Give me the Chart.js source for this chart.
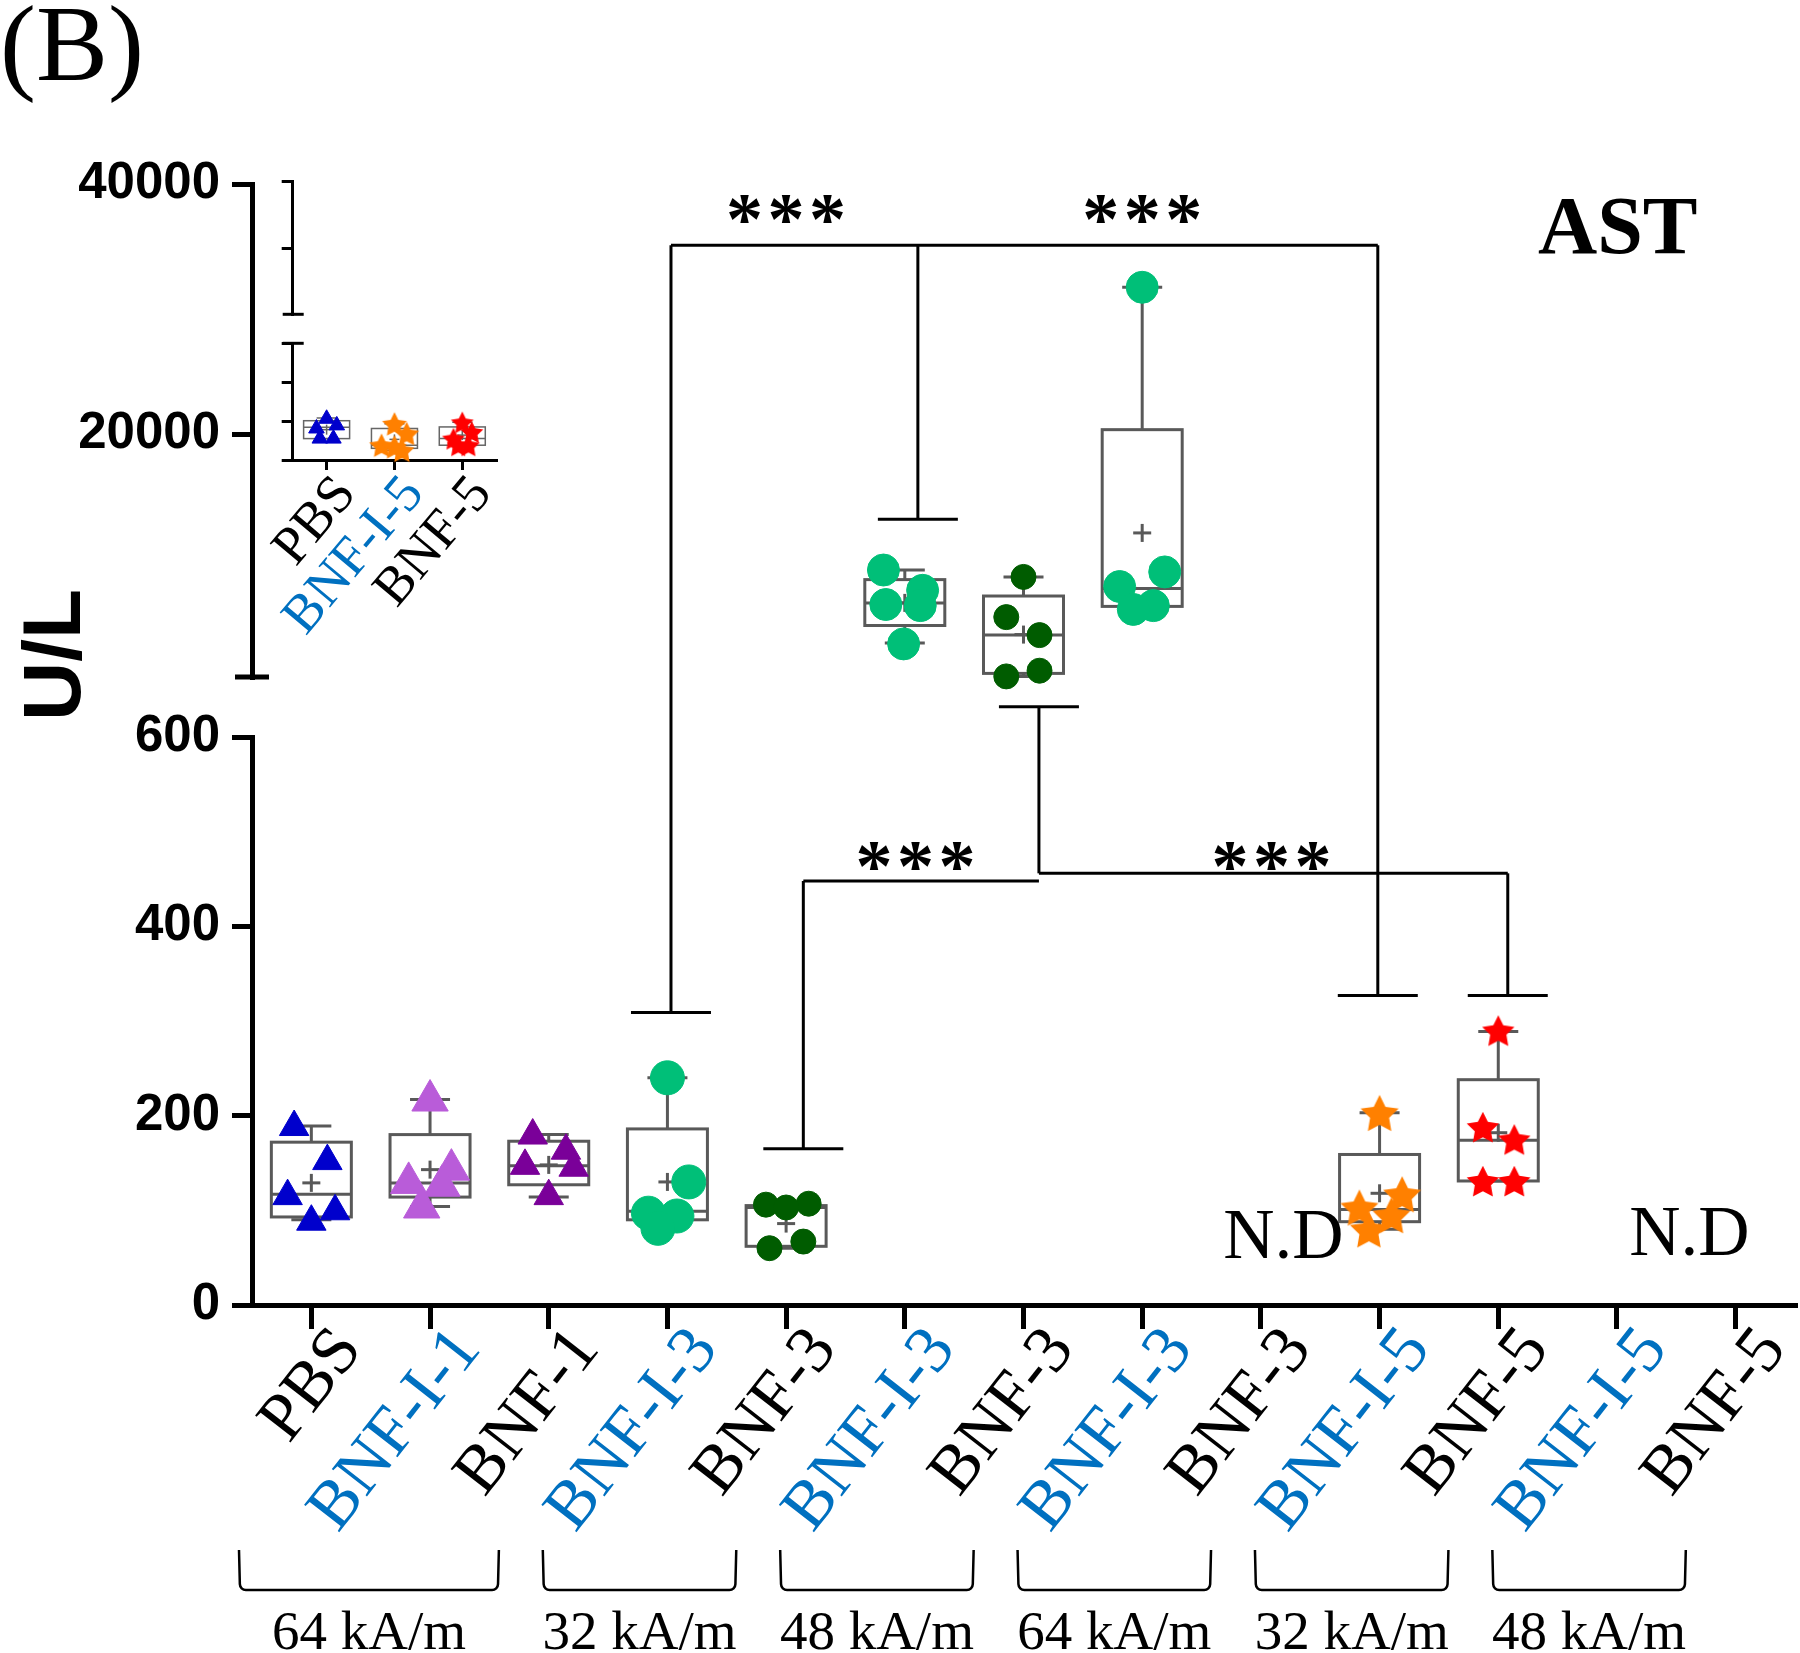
<!DOCTYPE html>
<html>
<head>
<meta charset="utf-8">
<script src="https://cdn.jsdelivr.net/npm/chart.js@4.4.1/dist/chart.umd.min.js"></script>
<style>
    html, body { margin: 0; padding: 0; background: #fff; }
    #wrap { position: relative; width: 1800px; height: 1653px; overflow: hidden; background: #fff; }
    #main { position: absolute; left: 0; top: 0; }
    #inset { position: absolute; left: 200px; top: 150px; }
</style>
</head>
<body>
<div id="wrap">
    <canvas id="main" width="1800" height="1653"></canvas>
    <canvas id="inset" width="330" height="500"></canvas>
</div>
<script>
// ---------- data (AST, U/L) ----------
const categories = ['PBS', 'BNF-I-1', 'BNF-1', 'BNF-I-3', 'BNF-3', 'BNF-I-3', 'BNF-3',
    'BNF-I-3', 'BNF-3', 'BNF-I-5', 'BNF-5', 'BNF-I-5', 'BNF-5'];
const fieldGroups = ['64 kA/m', '32 kA/m', '48 kA/m', '64 kA/m', '32 kA/m', '48 kA/m'];
const fieldGroupStart = [0, 3, 5, 7, 9, 11];
const fieldGroupEnd = [2, 4, 6, 8, 10, 12];

const lowerTicks = [0, 200, 400, 600];
const upperTicks = [20000, 40000];
const upperMin = 600;

// one array per group, one value per animal
const values = [
    [188, 152, 115, 99, 88],
    [216, 143, 129, 126, 103],
    [179, 163, 147, 145, 115],
    [240, 130, 97, 94, 81],
    [107, 106, 103, 67, 60],
    [9150, 7527, 6393, 6305, 3245],
    [8598, 5386, 3948, 1103, 648],
    [31745, 8998, 7831, 6305, 6002],
    [],
    [203, 117, 103, 95, 80],
    [290, 188, 175, 131, 131],
    [],
    []
];
// horizontal spread of the dots inside a group, in category widths
const jitter = [
    [-0.145, 0.135, -0.2, 0.2, 0],
    [0, 0.18, -0.18, 0.1, -0.07],
    [-0.135, 0.145, -0.2, 0.21, 0],
    [0, 0.18, -0.16, 0.08, -0.08],
    [0.19, -0.17, 0, 0.145, -0.14],
    [-0.18, 0.15, -0.16, 0.13, -0.01],
    [0, -0.145, 0.135, 0.135, -0.145],
    [0, 0.19, -0.19, 0.094, -0.075],
    [],
    [0, 0.19, -0.17, 0.1, -0.09],
    [0, -0.13, 0.135, -0.13, 0.135],
    [],
    []
];
const boxMin    = [90, 104, 114, 82, 60, 3309, 648, 6002, null, 80, 131, null, null];
const boxQ1     = [93, 114, 127, 90, 62, 4715, 888, 6242, null, 88, 131, null, null];
const boxMedian = [117, 129, 147, 99, 103, 6521, 3948, 7680, null, 101, 174, null, null];
const boxQ3     = [172, 180, 173, 186, 105, 8383, 7072, 20367, null, 159, 238, null, null];
const boxMax    = [189, 217, 180, 240, 107, 9150, 8598, 31745, null, 203, 289, null, null];
const boxMean   = [129, 143, 148, 130, 86, 6524, 3990, 12114, null, 118, 182, null, null];

// not detected groups: where the note sits (category units) and its baseline (U/L)
const ndX = [8.19, 11.61];
const ndY = [50, 53];

// significance brackets: [x, value, axis] end points
const sigSegments = [
    [[3.03, 35100, 'yTop'], [8.985, 35100, 'yTop']],
    [[3.03, 35100, 'yTop'], [3.03, 309, 'y']],
    [[5.11, 35100, 'yTop'], [5.11, 13208, 'yTop']],
    [[8.985, 35100, 'yTop'], [8.985, 327, 'y']],
    [[4.145, 448, 'y'], [6.13, 448, 'y']],
    [[6.13, 456, 'y'], [10.08, 456, 'y']],
    [[4.145, 448, 'y'], [4.145, 165, 'y']],
    [[6.13, 456, 'y'], [6.13, 632, 'y']],
    [[10.08, 456, 'y'], [10.08, 327, 'y']]
];
const sigCaps = [[3.03, 309, 'y'], [5.11, 13208, 'yTop'], [8.985, 327, 'y'],
    [4.145, 165, 'y'], [6.13, 632, 'y'], [10.08, 327, 'y']];
const sigStars = [[4.0, 38000, 'yTop'], [7.0, 38000, 'yTop'], [5.09, 474, 'y'], [8.09, 474, 'y']];

// inset
const insetCategories = ['PBS', 'BNF-I-5', 'BNF-5'];
const insetLowerTicks = [0, 100, 200, 300];
const insetUpperTicks = [550, 700];
const insetUpperMin = 400;
const insetValues = [[106, 89, 81, 55, 55], [93, 68, 38, 34, 25], [97, 72, 55, 38, 38]];
const insetJitter = [[0, 0.15, -0.15, -0.1, 0.1], [0, 0.18, -0.19, 0, 0.11], [0, 0.14, -0.13, -0.06, 0.09]];
const insetMin = [55, 25, 38];
const insetQ1 = [55, 30, 38];
const insetMedian = [84, 38, 55];
const insetQ3 = [101, 81, 85];
const insetMax = [108, 93, 97];
const insetMean = [78, 53, 64];

// ---------- styles ----------
const BLUE_TEXT = '#0070C0';
const BOX_GREY = '#595959';
const SERIF = 'Liberation Serif';
const SANS = 'Liberation Sans';

function starImage(color, outer) {
    const inner = outer * 0.5;
    const size = Math.ceil(outer * 2 + 2);
    const c = document.createElement('canvas');
    c.width = size;
    c.height = size;
    const g = c.getContext('2d');
    g.translate(size / 2, size / 2 + outer * 0.1);
    g.beginPath();
    for (let k = 0; k < 10; k++) {
        const r = k % 2 ? inner : outer;
        const a = -Math.PI / 2 + k * Math.PI / 5;
        g.lineTo(r * Math.cos(a), r * Math.sin(a));
    }
    g.closePath();
    g.fillStyle = color;
    g.fill();
    return c;
}

const markers = [
    {style: 'triangle', color: '#0000CC', radius: 17},
    {style: 'triangle', color: '#B95CD9', radius: 21},
    {style: 'triangle', color: '#7A0099', radius: 17},
    {style: 'circle', color: '#00BF78', radius: 17},
    {style: 'circle', color: '#005C00', radius: 12.5},
    {style: 'circle', color: '#00BF78', radius: 16},
    {style: 'circle', color: '#005C00', radius: 12.5},
    {style: 'circle', color: '#00BF78', radius: 16},
    null,
    {style: starImage('#FF8000', 20), color: '#FF8000', radius: 20},
    {style: starImage('#FF0000', 17), color: '#FF0000', radius: 17},
    null,
    null
];
const insetMarkers = [
    {style: 'triangle', color: '#0000CC', radius: 9},
    {style: starImage('#FF8000', 13), color: '#FF8000', radius: 13},
    {style: starImage('#FF0000', 12), color: '#FF0000', radius: 12}
];

function line(ctx, x1, y1, x2, y2) {
    ctx.beginPath();
    ctx.moveTo(x1, y1);
    ctx.lineTo(x2, y2);
    ctx.stroke();
}

// box, whiskers, median and mean cross, drawn under the dots
function boxPlugin(stats, axisOf, look) {
    return {
        id: 'boxes',
        beforeDatasetsDraw(chart) {
            const ctx = chart.ctx;
            const xs = chart.scales.x;
            ctx.save();
            ctx.strokeStyle = look.color;
            ctx.lineWidth = look.lineWidth;
            stats.min.forEach((mn, i) => {
                if (mn === null) return;
                const ys = chart.scales[axisOf(i)];
                const p = v => ys.getPixelForValue(v);
                const cx = xs.getPixelForValue(i);
                const hw = look.boxWidth / 2;
                const cw = look.capWidth / 2;
                line(ctx, cx, p(stats.q3[i]), cx, p(stats.max[i]));
                line(ctx, cx, p(stats.q1[i]), cx, p(mn));
                line(ctx, cx - cw, p(stats.max[i]), cx + cw, p(stats.max[i]));
                line(ctx, cx - cw, p(mn), cx + cw, p(mn));
                ctx.strokeRect(cx - hw, p(stats.q3[i]), hw * 2, p(stats.q1[i]) - p(stats.q3[i]));
                line(ctx, cx - hw, p(stats.median[i]), cx + hw, p(stats.median[i]));
                const m = p(stats.mean[i]);
                line(ctx, cx - look.cross, m, cx + look.cross, m);
                line(ctx, cx, m - look.cross, cx, m + look.cross);
            });
            ctx.restore();
        }
    };
}

function dotDatasets(vals, spread, marks, axisOf) {
    const out = [];
    vals.forEach((group, i) => {
        if (!group.length) return;
        const m = marks[i];
        out.push({
            yAxisID: axisOf(i),
            data: group.map((v, k) => ({x: i + spread[i][k], y: v})),
            clip: false,
            pointStyle: m.style,
            pointRadius: m.radius,
            pointHoverRadius: m.radius,
            backgroundColor: m.color,
            borderColor: m.color,
            borderWidth: 1
        });
    });
    return out;
}

const axisOf = i => (boxMin[i] !== null && boxMin[i] > lowerTicks[lowerTicks.length - 1]) ? 'yTop' : 'y';
const insetAxisOf = () => 'y';

function xScale(labels, look) {
    return {
        type: 'linear',
        min: -0.5,
        max: labels.length - 0.5,
        afterBuildTicks: s => { s.ticks = labels.map((_, i) => ({value: i})); },
        afterFit: s => {
            s.height = look.height;
            s.paddingLeft = 0;
            s.paddingRight = 0;
        },
        border: {display: true, color: '#000', width: look.axisWidth},
        grid: {display: true, drawOnChartArea: false, color: '#000', lineWidth: look.axisWidth, tickLength: look.tickLength},
        ticks: {
            autoSkip: false,
            minRotation: look.rotation,
            maxRotation: look.rotation,
            padding: look.padding,
            labelOffset: look.labelOffset,
            font: {family: SERIF, size: look.fontSize},
            color: c => (labels[c.tick ? c.tick.value : c.index] || '').includes('-I-') ? BLUE_TEXT : '#000',
            callback: v => labels[v] || ''
        }
    };
}

function yScale(weight, stackWeight, min, max, tickList, look) {
    return {
        type: 'linear',
        position: 'left',
        stack: 'split',
        stackWeight: stackWeight,
        weight: weight,
        min: min,
        max: max,
        afterBuildTicks: s => { s.ticks = tickList.map(v => ({value: v})); },
        afterFit: s => { s.width = look.width; },
        border: {display: true, color: '#000', width: look.axisWidth},
        grid: {display: true, drawOnChartArea: false, color: '#000', lineWidth: look.tickWidth, tickLength: look.tickLength},
        ticks: {
            display: look.labels,
            padding: 12,
            color: '#000',
            font: {family: SANS, size: 51, weight: 'bold'},
            callback: v => String(v)
        }
    };
}

function gapScale(weight, stackWeight, width) {
    return {
        type: 'linear',
        position: 'left',
        stack: 'split',
        stackWeight: stackWeight,
        weight: weight,
        min: 0,
        max: 1,
        afterFit: s => { s.width = width; },
        border: {display: false},
        grid: {display: false},
        ticks: {display: false}
    };
}

// ---------- main chart ----------
function initMainChart() {
    const ctx = document.getElementById('main').getContext('2d');
    const look = {width: 252, axisWidth: 5, tickWidth: 5, tickLength: 20, labels: true};

    const decorations = {
        id: 'decorations',
        afterDraw(chart) {
            const c = chart.ctx;
            const xs = chart.scales.x;
            const area = chart.chartArea;
            const at = (x, v, axis) => [xs.getPixelForValue(x), chart.scales[axis].getPixelForValue(v)];
            c.save();

            // end cap of the upper axis segment at the break
            c.strokeStyle = '#000';
            c.lineWidth = 5;
            const capY = chart.scales.yTop.bottom;
            line(c, area.left - 17, capY, area.left + 17, capY);

            // significance brackets
            c.lineWidth = 3;
            sigSegments.forEach(seg => {
                const a = at(...seg[0]);
                const b = at(...seg[1]);
                line(c, a[0], a[1], b[0], b[1]);
            });
            sigCaps.forEach(cp => {
                const p = at(...cp);
                line(c, p[0] - 40, p[1], p[0] + 40, p[1]);
            });
            c.fillStyle = '#000';
            c.font = 'bold 74px ' + SERIF;
            c.textAlign = 'center';
            c.textBaseline = 'alphabetic';
            const mt = c.measureText('*');
            const mid = (mt.actualBoundingBoxAscent - mt.actualBoundingBoxDescent) / 2;
            sigStars.forEach(st => {
                const p = at(...st);
                [-41.5, 0, 41.5].forEach(dx => c.fillText('*', p[0] + dx, p[1] + mid));
            });

            // N.D notes
            c.font = '71px ' + SERIF;
            ndX.forEach((x, k) => {
                const p = at(x, ndY[k], 'y');
                c.fillText('N.D', p[0], p[1]);
            });

            // field-strength brackets under the labels
            const unit = xs.getPixelForValue(1) - xs.getPixelForValue(0);
            c.lineWidth = 2.5;
            c.font = '55px ' + SERIF;
            fieldGroups.forEach((label, g) => {
                const left = Math.max(xs.getPixelForValue(fieldGroupStart[g]) - 1.05 * unit, area.left - 13);
                const right = xs.getPixelForValue(fieldGroupEnd[g]) - 0.42 * unit;
                c.beginPath();
                c.moveTo(left, 1550);
                c.arcTo(left + 1, 1590, left + 12, 1590, 6);
                c.lineTo(right - 12, 1590);
                c.arcTo(right - 1, 1590, right, 1550, 6);
                c.lineTo(right, 1550);
                c.stroke();
                c.fillText(label, (left + right) / 2, 1649);
            });

            // titles
            c.textAlign = 'left';
            c.font = '108px ' + SERIF;
            c.fillText('(B)', 0, 80);
            c.font = 'bold 82px ' + SERIF;
            c.fillText('AST', 1538, 253);
            c.save();
            c.translate(57, 655);
            c.rotate(-Math.PI / 2);
            c.textAlign = 'center';
            c.textBaseline = 'middle';
            c.font = 'bold 82px ' + SANS;
            c.fillText('U/L', 0, 0);
            c.restore();

            c.restore();
        }
    };

    return new Chart(ctx, {
        type: 'scatter',
        data: {datasets: dotDatasets(values, jitter, markers, axisOf)},
        options: {
            responsive: false,
            animation: false,
            devicePixelRatio: 1,
            layout: {autoPadding: false, padding: {left: 0, right: 5, top: 184, bottom: 0}},
            plugins: {legend: {display: false}, tooltip: {enabled: false}},
            scales: {
                x: xScale(categories, {height: 348, axisWidth: 5, tickLength: 24, rotation: 52,
                    padding: -16, labelOffset: 38, fontSize: 68}),
                y: yScale(1, 568, 0, lowerTicks[lowerTicks.length - 1], lowerTicks, look),
                yGap: gapScale(2, 60, look.width),
                yTop: yScale(3, 493, upperMin, upperTicks[upperTicks.length - 1], upperTicks, look)
            }
        },
        plugins: [
            boxPlugin({min: boxMin, q1: boxQ1, median: boxMedian, q3: boxQ3, max: boxMax, mean: boxMean},
                axisOf, {color: BOX_GREY, lineWidth: 3, boxWidth: 80, capWidth: 40, cross: 9}),
            decorations
        ]
    });
}

// ---------- inset chart ----------
function initInsetChart() {
    const ctx = document.getElementById('inset').getContext('2d');
    const look = {width: 92.7, axisWidth: 3, tickWidth: 3, tickLength: 11, labels: false};

    const breakCaps = {
        id: 'breakCaps',
        afterDraw(chart) {
            const c = chart.ctx;
            const left = chart.chartArea.left;
            c.save();
            c.strokeStyle = '#000';
            c.lineWidth = 3;
            line(c, left - 10, chart.scales.yTop.bottom, left + 11, chart.scales.yTop.bottom);
            line(c, left - 10, chart.scales.y.top, left + 11, chart.scales.y.top);
            c.restore();
        }
    };

    return new Chart(ctx, {
        type: 'scatter',
        data: {datasets: dotDatasets(insetValues, insetJitter, insetMarkers, insetAxisOf)},
        options: {
            responsive: false,
            animation: false,
            devicePixelRatio: 1,
            layout: {autoPadding: false, padding: {left: 0, right: 33.8, top: 31.7, bottom: 0}},
            plugins: {legend: {display: false}, tooltip: {enabled: false}},
            scales: {
                x: xScale(insetCategories, {height: 190, axisWidth: 3, tickLength: 10, rotation: 50,
                    padding: -6, labelOffset: 20, fontSize: 54}),
                y: yScale(1, 116.7, 0, insetLowerTicks[insetLowerTicks.length - 1], insetLowerTicks, look),
                yGap: gapScale(2, 29, look.width),
                yTop: yScale(3, 132.6, insetUpperMin, insetUpperTicks[insetUpperTicks.length - 1], insetUpperTicks, look)
            }
        },
        plugins: [
            boxPlugin({min: insetMin, q1: insetQ1, median: insetMedian, q3: insetQ3, max: insetMax, mean: insetMean},
                insetAxisOf, {color: '#666', lineWidth: 1.5, boxWidth: 46, capWidth: 20, cross: 5}),
            breakCaps
        ]
    });
}

initMainChart();
initInsetChart();
</script>
</body>
</html>
